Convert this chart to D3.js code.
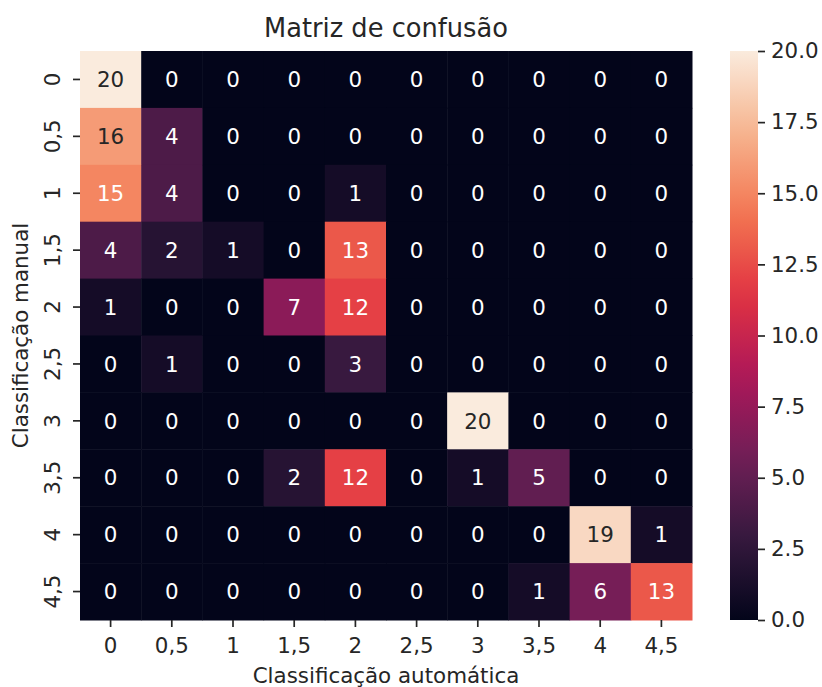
<!DOCTYPE html>
<html>
<head>
<meta charset="utf-8">
<script src="https://cdn.jsdelivr.net/npm/d3@7"></script>
<style>
  body { margin: 0; background: #fff; }
  text { font-family: "DejaVu Sans", sans-serif; fill: #262626; }
</style>
</head>
<body>
<svg id="chart" width="822" height="687"></svg>
<script>
// categories (rows = manual, columns = automatic)
var rowLabels = ["0", "0,5", "1", "1,5", "2", "2,5", "3", "3,5", "4", "4,5"];
var colLabels = ["0", "0,5", "1", "1,5", "2", "2,5", "3", "3,5", "4", "4,5"];

// confusion counts, one array per manual class
var matrix = [
  [20, 0, 0, 0, 0, 0, 0, 0, 0, 0],
  [16, 4, 0, 0, 0, 0, 0, 0, 0, 0],
  [15, 4, 0, 0, 1, 0, 0, 0, 0, 0],
  [4, 2, 1, 0, 13, 0, 0, 0, 0, 0],
  [1, 0, 0, 7, 12, 0, 0, 0, 0, 0],
  [0, 1, 0, 0, 3, 0, 0, 0, 0, 0],
  [0, 0, 0, 0, 0, 0, 20, 0, 0, 0],
  [0, 0, 0, 2, 12, 0, 1, 5, 0, 0],
  [0, 0, 0, 0, 0, 0, 0, 0, 19, 1],
  [0, 0, 0, 0, 0, 0, 0, 1, 6, 13]
];

var cbarTicks = [0, 2.5, 5, 7.5, 10, 12.5, 15, 17.5, 20];

// rocket colormap stops
var rocket = ["#03051a", "#35193e", "#701f57", "#ad1759", "#e13342", "#f37651", "#f6b48f", "#faebdd"];

var svg = d3.select("#chart"),
    margin = {top: 51, left: 80},
    width = 612,
    height = 569,
    fs = "21.4px";

var g = svg.append("g").attr("transform", "translate(" + margin.left + "," + margin.top + ")");

var x = d3.scaleBand().domain(colLabels).range([0, width]),
    y = d3.scaleBand().domain(rowLabels).range([0, height]);

var vmin = 0, vmax = 20;
var colorInterp = d3.piecewise(d3.interpolateRgb, rocket);
var color = function(v) { return colorInterp((v - vmin) / (vmax - vmin)); };

function textColor(c) {
  var rgb = d3.rgb(c);
  var lin = [rgb.r, rgb.g, rgb.b].map(function(v) {
    v = v / 255;
    return v <= 0.03928 ? v / 12.92 : Math.pow((v + 0.055) / 1.055, 2.4);
  });
  var lum = 0.2126 * lin[0] + 0.7152 * lin[1] + 0.0722 * lin[2];
  return lum > 0.408 ? "#262626" : "#ffffff";
}

var cells = [];
matrix.forEach(function(row, i) {
  row.forEach(function(v, j) {
    cells.push({row: rowLabels[i], col: colLabels[j], value: v});
  });
});

g.selectAll(".cell")
  .data(cells)
  .enter().append("rect")
    .attr("class", "cell")
    .attr("x", function(d) { return x(d.col); })
    .attr("y", function(d) { return y(d.row); })
    .attr("width", x.bandwidth() + 0.5)
    .attr("height", y.bandwidth() + 0.5)
    .attr("fill", function(d) { return color(d.value); });

g.selectAll(".annot")
  .data(cells)
  .enter().append("text")
    .attr("class", "annot")
    .attr("x", function(d) { return x(d.col) + x.bandwidth() / 2; })
    .attr("y", function(d) { return y(d.row) + y.bandwidth() / 2; })
    .attr("text-anchor", "middle")
    .attr("dy", "0.36em")
    .style("font-size", fs)
    .style("fill", function(d) { return textColor(color(d.value)); })
    .text(function(d) { return d.value; });

// x axis
var xAxis = g.append("g")
    .attr("transform", "translate(0," + height + ")")
    .call(d3.axisBottom(x).tickSize(7).tickPadding(5));
xAxis.select(".domain").remove();
xAxis.selectAll("line").attr("stroke", "#262626").attr("stroke-width", 1.7);
xAxis.selectAll("text").style("font-size", fs).attr("font-family", null).attr("fill", null)
    .attr("dy", null).attr("y", 33);

// y axis, labels rotated
var yAxis = g.append("g")
    .call(d3.axisLeft(y).tickSize(7).tickPadding(5));
yAxis.select(".domain").remove();
yAxis.selectAll("line").attr("stroke", "#262626").attr("stroke-width", 1.7);
yAxis.selectAll("text")
    .style("font-size", fs)
    .attr("font-family", null).attr("fill", null)
    .attr("x", null).attr("dy", null)
    .attr("text-anchor", "middle")
    .attr("transform", "translate(-20,0) rotate(-90)");

// axis labels and title
svg.append("text")
    .attr("x", margin.left + width / 2)
    .attr("y", 683)
    .attr("text-anchor", "middle")
    .style("font-size", fs)
    .text("Classificação automática");

svg.append("text")
    .attr("transform", "translate(28," + (margin.top + height / 2) + ") rotate(-90)")
    .attr("text-anchor", "middle")
    .style("font-size", fs)
    .text("Classificação manual");

svg.append("text")
    .attr("x", margin.left + width / 2)
    .attr("y", 37)
    .attr("text-anchor", "middle")
    .style("font-size", "25.7px")
    .text("Matriz de confusão");

// colorbar
var cbX = 730, cbW = 28;
var cy = d3.scaleLinear().domain([vmin, vmax]).range([margin.top + height, margin.top]);

var grad = svg.append("defs").append("linearGradient")
    .attr("id", "cbgrad")
    .attr("x1", 0).attr("y1", 1).attr("x2", 0).attr("y2", 0);
d3.range(0, 1.0001, 0.05).forEach(function(t) {
  grad.append("stop").attr("offset", t).attr("stop-color", colorInterp(t));
});

svg.append("rect")
    .attr("x", cbX)
    .attr("y", cy(vmax))
    .attr("width", cbW)
    .attr("height", cy(vmin) - cy(vmax))
    .attr("fill", "url(#cbgrad)");

var cAxis = svg.append("g")
    .attr("transform", "translate(" + (cbX + cbW) + ",0)")
    .call(d3.axisRight(cy).tickValues(cbarTicks).tickFormat(d3.format(".1f")).tickSize(7).tickPadding(6));
cAxis.select(".domain").remove();
cAxis.selectAll("line").attr("stroke", "#262626").attr("stroke-width", 1.7);
cAxis.selectAll("text").style("font-size", fs).attr("font-family", null).attr("fill", null);
</script>
</body>
</html>
